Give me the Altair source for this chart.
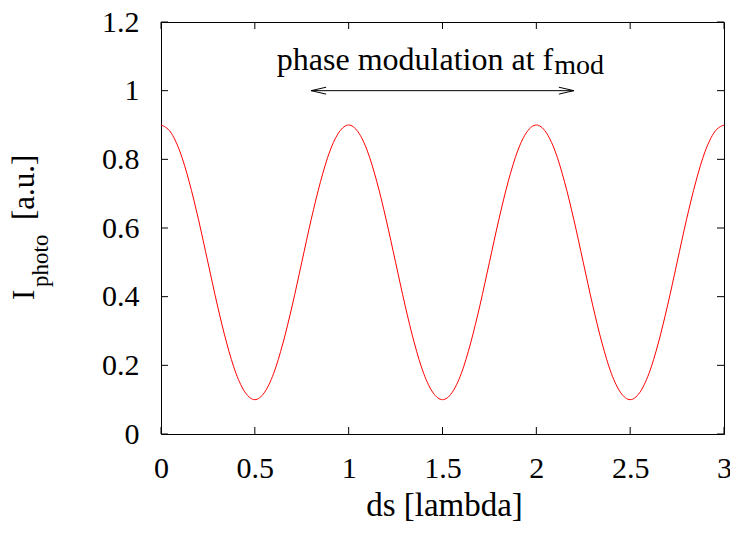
import altair as alt
import pandas as pd

# ---- data ----
ds = [0.00, 0.05, 0.10, 0.15, 0.20, 0.25, 0.30, 0.35, 0.40, 0.45,
      0.50, 0.55, 0.60, 0.65, 0.70, 0.75, 0.80, 0.85, 0.90, 0.95,
      1.00, 1.05, 1.10, 1.15, 1.20, 1.25, 1.30, 1.35, 1.40, 1.45,
      1.50, 1.55, 1.60, 1.65, 1.70, 1.75, 1.80, 1.85, 1.90, 1.95,
      2.00, 2.05, 2.10, 2.15, 2.20, 2.25, 2.30, 2.35, 2.40, 2.45,
      2.50, 2.55, 2.60, 2.65, 2.70, 2.75, 2.80, 2.85, 2.90, 2.95,
      3.00]
intensity = [0.900, 0.880, 0.824, 0.735, 0.624, 0.500, 0.376, 0.265, 0.176, 0.120,
             0.100, 0.120, 0.176, 0.265, 0.376, 0.500, 0.624, 0.735, 0.824, 0.880,
             0.900, 0.880, 0.824, 0.735, 0.624, 0.500, 0.376, 0.265, 0.176, 0.120,
             0.100, 0.120, 0.176, 0.265, 0.376, 0.500, 0.624, 0.735, 0.824, 0.880,
             0.900, 0.880, 0.824, 0.735, 0.624, 0.500, 0.376, 0.265, 0.176, 0.120,
             0.100, 0.120, 0.176, 0.265, 0.376, 0.500, 0.624, 0.735, 0.824, 0.880,
             0.900]
x_ticks = [0, 0.5, 1, 1.5, 2, 2.5, 3]
y_ticks = [0, 0.2, 0.4, 0.6, 0.8, 1, 1.2]
arrow_x = [0.8, 2.2]
arrow_y = [1.0, 1.0]
label_main = "phase modulation at f"
label_sub = "mod"
label_pos = [2.09, 1.06]
x_title = "ds [lambda]"
y_title_main = "I"
y_title_sub = "photo"
y_title_unit = "[a.u.]"

# ---- layout / style ----
W, H = 563, 412
FONT = "Liberation Serif"
TICK = 7

xs = alt.Scale(domain=[0, 3], nice=False, zero=False)
ys = alt.Scale(domain=[0, 1.2], nice=False, zero=False)

AX = alt.Axis(values=x_ticks, format="~g", ticks=False, domain=False, grid=False,
              labelFont=FONT, labelFontSize=30, labelColor="black", labelPadding=19,
              labelFlush=False, labelOverlap=False, title=None)
AY = alt.Axis(values=y_ticks, format="~g", ticks=False, domain=False, grid=False,
              labelFont=FONT, labelFontSize=30, labelColor="black", labelPadding=22,
              labelFlush=False, labelOverlap=False, title=None)

curve_df = pd.DataFrame({"ds": ds, "I": intensity})
curve = alt.Chart(curve_df).mark_line(
    color="#ff0000", strokeWidth=1, interpolate="monotone"
).encode(
    x=alt.X("ds:Q", scale=xs, axis=AX),
    y=alt.Y("I:Q", scale=ys, axis=AY),
)

xt_df = pd.DataFrame({"v": x_ticks})
yt_df = pd.DataFrame({"v": y_ticks})
tick_style = dict(color="black", strokeWidth=1)
bottom_ticks = alt.Chart(xt_df).mark_rule(**tick_style).encode(
    x=alt.X("v:Q", scale=xs, axis=AX), y=alt.value(H), y2=alt.value(H - TICK))
top_ticks = alt.Chart(xt_df).mark_rule(**tick_style).encode(
    x=alt.X("v:Q", scale=xs, axis=AX), y=alt.value(0), y2=alt.value(TICK))
left_ticks = alt.Chart(yt_df).mark_rule(**tick_style).encode(
    y=alt.Y("v:Q", scale=ys, axis=AY), x=alt.value(0), x2=alt.value(TICK))
right_ticks = alt.Chart(yt_df).mark_rule(**tick_style).encode(
    y=alt.Y("v:Q", scale=ys, axis=AY), x=alt.value(W), x2=alt.value(W - TICK))

arrow_df = pd.DataFrame({"x": [arrow_x[0]], "x2": [arrow_x[1]], "y": [arrow_y[0]]})
arrow_line = alt.Chart(arrow_df).mark_rule(color="black", strokeWidth=1).encode(
    x=alt.X("x:Q", scale=xs, axis=AX), x2="x2:Q",
    y=alt.Y("y:Q", scale=ys, axis=AY))
left_head = alt.Chart(pd.DataFrame({"x": [arrow_x[0]], "y": [arrow_y[0]]})).mark_point(
    shape="M1,-0.23L0,0L1,0.23", size=900, filled=False, color="black",
    strokeWidth=1, opacity=1
).encode(x=alt.X("x:Q", scale=xs, axis=AX), y=alt.Y("y:Q", scale=ys, axis=AY))
right_head = alt.Chart(pd.DataFrame({"x": [arrow_x[1]], "y": [arrow_y[1]]})).mark_point(
    shape="M-1,-0.23L0,0L-1,0.23", size=900, filled=False, color="black",
    strokeWidth=1, opacity=1
).encode(x=alt.X("x:Q", scale=xs, axis=AX), y=alt.Y("y:Q", scale=ys, axis=AY))

lab_df = pd.DataFrame({"x": [label_pos[0]], "y": [label_pos[1]],
                       "main": [label_main], "sub": [label_sub]})
main_text = alt.Chart(lab_df).mark_text(
    font=FONT, fontSize=32, align="right", baseline="alphabetic", color="black"
).encode(x=alt.X("x:Q", scale=xs, axis=AX), y=alt.Y("y:Q", scale=ys, axis=AY),
         text="main:N")
sub_text = alt.Chart(lab_df).mark_text(
    font=FONT, fontSize=28, align="left", baseline="alphabetic", color="black",
    dx=1, dy=4
).encode(x=alt.X("x:Q", scale=xs, axis=AX), y=alt.Y("y:Q", scale=ys, axis=AY),
         text="sub:N")

def fixed_text(txt, px, py, size, angle=0, align="left"):
    return alt.Chart(pd.DataFrame({"t": [txt]})).mark_text(
        font=FONT, fontSize=size, align=align, baseline="alphabetic",
        color="black", angle=angle
    ).encode(x=alt.value(px), y=alt.value(py), text="t:N")

xt = fixed_text(x_title, W / 2 + 2, H + 82, 33, align="center")
yt1 = fixed_text(y_title_main, -127, 278, 31, angle=270)
yt2 = fixed_text(y_title_sub, -113, 265, 23, angle=270)
yt3 = fixed_text(y_title_unit, -127, 198, 31, angle=270)

chart = alt.layer(
    curve, bottom_ticks, top_ticks, left_ticks, right_ticks,
    arrow_line, left_head, right_head, main_text, sub_text,
    xt, yt1, yt2, yt3
).properties(
    width=W, height=H,
    padding={"left": 153, "top": 14, "right": 6, "bottom": 92},
    autosize=alt.AutoSizeParams(type="none"),
    background="white",
).configure_view(stroke="black", strokeWidth=1)

chart.save("out.html", embed_options={"renderer": "svg", "actions": False})
